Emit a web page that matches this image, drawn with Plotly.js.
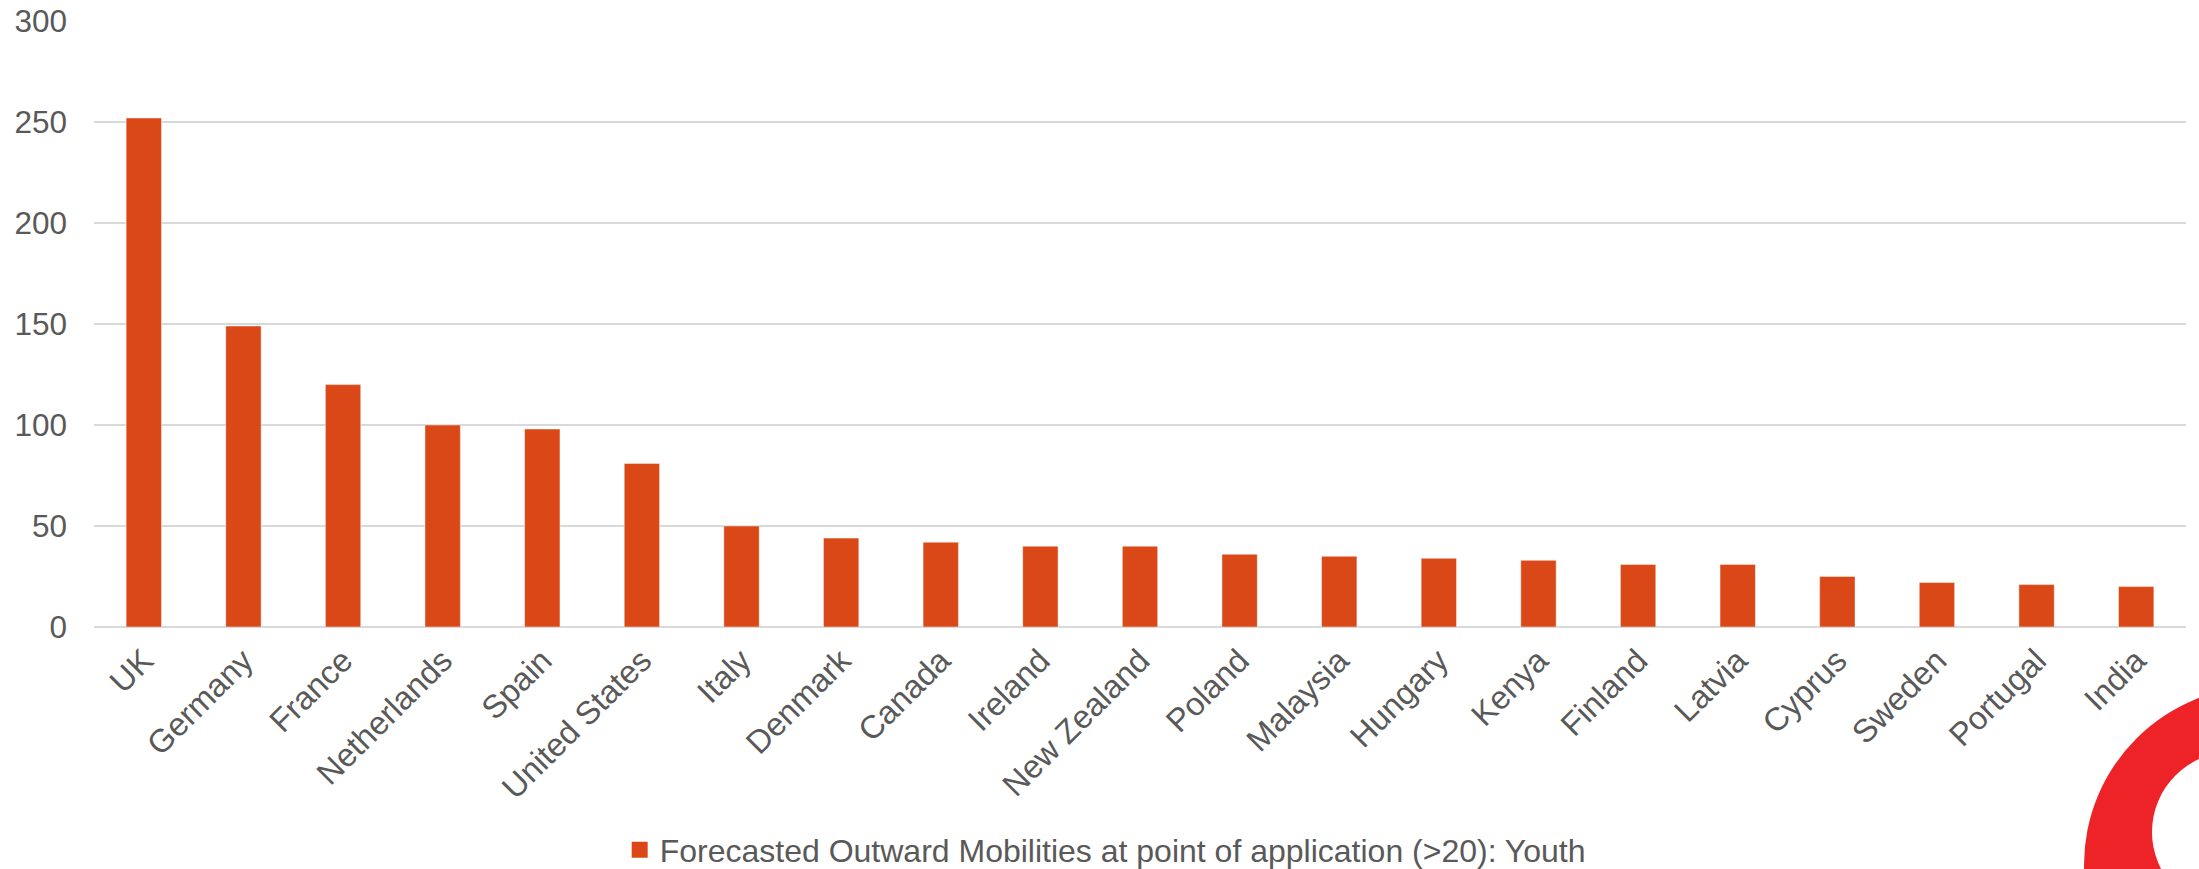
<!DOCTYPE html>
<html>
<head>
<meta charset="utf-8">
<script src="https://cdn.plot.ly/plotly-3.0.1.min.js"></script>
<style>
  html, body { margin: 0; padding: 0; background: #ffffff; }
  #chart { width: 2199px; height: 869px; }
</style>
</head>
<body>
<div id="chart"></div>
<script>
const countries = ["UK", "Germany", "France", "Netherlands", "Spain", "United States", "Italy",
  "Denmark", "Canada", "Ireland", "New Zealand", "Poland", "Malaysia", "Hungary", "Kenya",
  "Finland", "Latvia", "Cyprus", "Sweden", "Portugal", "India"];
const youthMobilities = [252, 149, 120, 100, 98, 81, 50, 44, 42, 40, 40, 36, 35, 34, 33, 31, 31, 25, 22, 21, 20];
const seriesName = "Forecasted Outward Mobilities at point of application (>20): Youth";
const yTicks = [0, 50, 100, 150, 200, 250, 300];

const W = 2199, H = 869;
const M = { l: 94, r: 13, t: 21, b: 242 };
const pw = W - M.l - M.r, ph = H - M.t - M.b;
function px2paperX(px) { return (px - M.l) / pw; }
function px2paperY(py) { return (H - M.b - py) / ph; }

const textColor = "#595959";
const barColor = "#DA4817";
const fontFam = "Liberation Sans, Arial, sans-serif";

const barTrace = {
  type: "bar",
  x: countries,
  y: youthMobilities,
  name: seriesName,
  showlegend: false,
  marker: { color: barColor, line: { color: "rgba(255,255,255,0.45)", width: 1 } },
  hoverinfo: "x+y"
};

// legend entry for the bar series (larger square key like the reference)
const legendKey = {
  type: "scatter",
  mode: "markers",
  x: [null], y: [null],
  name: seriesName,
  marker: { symbol: "square", size: 16, color: barColor, line: { width: 0 } },
  hoverinfo: "skip"
};

function circ(cx, cy, r, color) {
  return {
    type: "circle", xref: "paper", yref: "paper",
    x0: px2paperX(cx - r), x1: px2paperX(cx + r),
    y0: px2paperY(cy + r), y1: px2paperY(cy - r),
    fillcolor: color, line: { width: 0 }, layer: "above"
  };
}

const layout = {
  width: W, height: H,
  margin: M,
  paper_bgcolor: "#ffffff",
  plot_bgcolor: "#ffffff",
  font: { family: fontFam, color: textColor, size: 31 },
  bargap: 0.645,
  showlegend: true,
  legend: {
    orientation: "h",
    xref: "container", yref: "container",
    x: 0.2818, xanchor: "left",
    y: 1 - 850 / H, yanchor: "middle",
    font: { size: 32, color: textColor, family: fontFam },
    bgcolor: "rgba(0,0,0,0)"
  },
  xaxis: {
    type: "category",
    tickangle: -45,
    showgrid: false,
    showline: false,
    zeroline: false,
    ticks: "",
    ticklabelstandoff: 7,
    tickfont: { size: 32.5, color: textColor }
  },
  yaxis: {
    range: [0, 300],
    tickmode: "array",
    tickvals: yTicks,
    ticktext: yTicks.map(String),
    showgrid: true,
    gridcolor: "#D9D9D9",
    gridwidth: 1.6,
    zeroline: true,
    zerolinecolor: "#D9D9D9",
    zerolinewidth: 1.6,
    showline: false,
    ticks: "",
    ticklabelstandoff: 26,
    tickfont: { size: 31.5, color: textColor }
  },
  shapes: [
    circ(2263, 865, 179, "#EE2327"),
    circ(2232, 832, 80, "#ffffff")
  ]
};

Plotly.newPlot("chart", [barTrace, legendKey], layout, { displayModeBar: false, staticPlot: true });
</script>
</body>
</html>
